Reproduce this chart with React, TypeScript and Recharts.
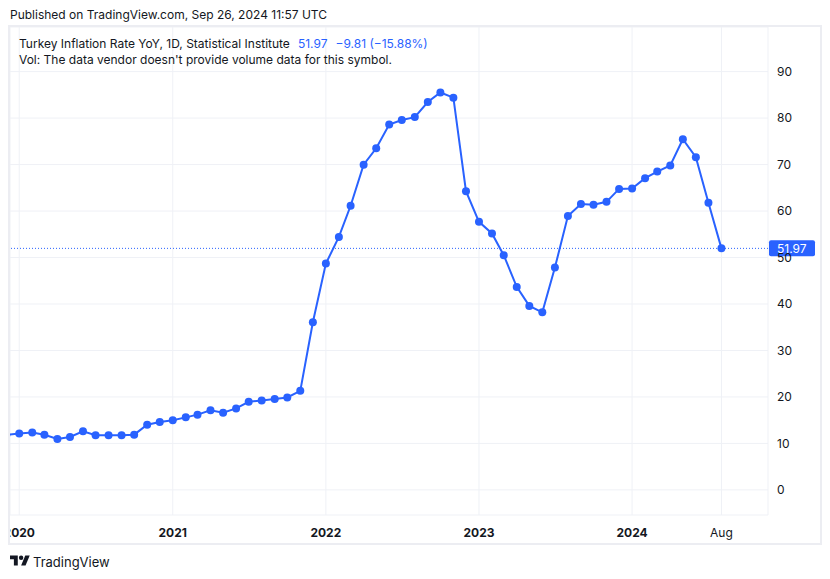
import { LineChart, Line, XAxis, YAxis, CartesianGrid, ReferenceLine } from 'recharts'

const MONTHS = [
  '2019-12',
  '2020-01', '2020-02', '2020-03', '2020-04', '2020-05', '2020-06', '2020-07', '2020-08', '2020-09', '2020-10', '2020-11', '2020-12',
  '2021-01', '2021-02', '2021-03', '2021-04', '2021-05', '2021-06', '2021-07', '2021-08', '2021-09', '2021-10', '2021-11', '2021-12',
  '2022-01', '2022-02', '2022-03', '2022-04', '2022-05', '2022-06', '2022-07', '2022-08', '2022-09', '2022-10', '2022-11', '2022-12',
  '2023-01', '2023-02', '2023-03', '2023-04', '2023-05', '2023-06', '2023-07', '2023-08', '2023-09', '2023-10', '2023-11', '2023-12',
  '2024-01', '2024-02', '2024-03', '2024-04', '2024-05', '2024-06', '2024-07', '2024-08',
]

const INFLATION = [
  11.84,
  12.15, 12.37, 11.86, 10.94, 11.39, 12.62, 11.76, 11.77, 11.75, 11.89, 14.03, 14.6,
  14.97, 15.61, 16.19, 17.14, 16.59, 17.53, 18.95, 19.25, 19.58, 19.89, 21.31, 36.08,
  48.69, 54.44, 61.14, 69.97, 73.5, 78.62, 79.6, 80.21, 83.45, 85.51, 84.39, 64.27,
  57.68, 55.18, 50.51, 43.68, 39.59, 38.21, 47.83, 58.94, 61.53, 61.36, 61.98, 64.77,
  64.86, 67.07, 68.5, 69.8, 75.45, 71.6, 61.78, 51.97,
]

const X_TICKS = ['2020-01', '2021-01', '2022-01', '2023-01', '2024-01', '2024-08']
const X_TICK_LABELS = ['2020', '2021', '2022', '2023', '2024', 'Aug']
const Y_TICKS = [0, 10, 20, 30, 40, 50, 60, 70, 80, 90]

const LAST_VALUE = 51.97
const CHANGE_TEXT = '\u22129.81 (\u221215.88%)'

const BLUE = '#2962ff'
const TEXT = '#131722'
const GRID = '#eff1f6'
const FONT = '-apple-system, BlinkMacSystemFont, Inter, Roboto, sans-serif'

const toTime = (m: string) => Date.UTC(Number(m.slice(0, 4)), Number(m.slice(5, 7)) - 1, 1)

const data = MONTHS.map((m, i) => ({ t: toTime(m), value: INFLATION[i] }))

function XTick({ x, y, payload }: any) {
  const i = X_TICKS.findIndex((m) => toTime(m) === payload.value)
  const label = X_TICK_LABELS[i] ?? ''
  const isYear = label !== 'Aug'
  return (
    <text x={x} y={y + 20} textAnchor="middle" fontSize={12} fontWeight={isYear ? 700 : 400} fill={TEXT} fontFamily={FONT}>
      {label}
    </text>
  )
}

function PriceLabel({ viewBox }: any) {
  const { x, y, width } = viewBox
  const left = x + width + 1
  return (
    <g>
      <rect x={left} y={y - 8} width={46} height={16} rx={2} fill={BLUE} />
      <text x={left + 8} y={y + 4.5} fill="#ffffff" fontSize={12} fontFamily={FONT}>
        {LAST_VALUE.toFixed(2)}
      </text>
    </g>
  )
}

function TvLogo() {
  return (
    <svg width={20} height={16} viewBox="0 0 36 28" style={{ position: 'absolute', left: 10, top: 553 }}>
      <path d="M14 22H7V11H0V4h14v18z" fill={TEXT} />
      <circle cx={20} cy={8} r={4} fill={TEXT} />
      <path d="M28 22h-8l7.5-18h8L28 22z" fill={TEXT} />
    </svg>
  )
}

export default function App() {
  return (
    <div
      style={{
        position: 'absolute',
        left: 0,
        top: 0,
        width: 830,
        height: 579,
        background: '#ffffff',
        fontFamily: FONT,
        color: TEXT,
        overflow: 'hidden',
      }}
    >
      <div style={{ position: 'absolute', left: 10, top: 6, fontSize: 12, lineHeight: '18px', whiteSpace: 'nowrap' }}>
        Published on TradingView.com, Sep 26, 2024 11:57 UTC
      </div>

      <div style={{ position: 'absolute', left: 10, top: 27, width: 810, height: 516, overflow: 'hidden' }}>
        <LineChart width={810} height={516} data={data} margin={{ top: 0, right: 0, bottom: 0, left: 0 }}>
          <CartesianGrid stroke={GRID} strokeWidth={1} />
          <XAxis
            dataKey="t"
            type="number"
            scale="time"
            domain={[Date.UTC(2019, 11, 10), Date.UTC(2024, 10, 20)]}
            allowDataOverflow
            ticks={X_TICKS.map(toTime)}
            tick={<XTick />}
            tickLine={false}
            axisLine={false}
            tickSize={0}
            height={28}
            interval={0}
          />
          <YAxis
            orientation="right"
            type="number"
            domain={[-5.4, 99.6]}
            allowDataOverflow
            ticks={Y_TICKS}
            tick={{ fontSize: 12, fill: TEXT, fontFamily: FONT, textAnchor: 'start' }}
            tickLine={false}
            axisLine={false}
            tickSize={0}
            tickMargin={9}
            width={52}
            interval={0}
          />
          <ReferenceLine
            y={LAST_VALUE}
            stroke={BLUE}
            strokeWidth={1}
            strokeDasharray="1 2"
            label={<PriceLabel />}
          />
          <Line
            type="linear"
            dataKey="value"
            stroke={BLUE}
            strokeWidth={2}
            dot={{ r: 4, fill: BLUE, stroke: BLUE, strokeWidth: 0 }}
            activeDot={false}
            isAnimationActive={false}
          />
        </LineChart>
        <div style={{ position: 'absolute', left: 9, top: 9, fontSize: 12, lineHeight: '16px', whiteSpace: 'nowrap' }}>
          <div>
            Turkey Inflation Rate YoY, 1D, Statistical Institute
            <span style={{ color: BLUE, marginLeft: 8 }}>{LAST_VALUE.toFixed(2)}</span>
            <span style={{ color: BLUE, marginLeft: 8 }}>{CHANGE_TEXT}</span>
          </div>
          <div>Vol: The data vendor doesn't provide volume data for this symbol.</div>
        </div>
      </div>

      <div
        style={{
          position: 'absolute',
          left: 8,
          top: 25,
          width: 814,
          height: 520,
          boxSizing: 'border-box',
          border: '2px solid #ecedf2',
          pointerEvents: 'none',
        }}
      />

      <TvLogo />
      <div style={{ position: 'absolute', left: 33, top: 553, fontSize: 13, lineHeight: '18px' }}>TradingView</div>
    </div>
  )
}
